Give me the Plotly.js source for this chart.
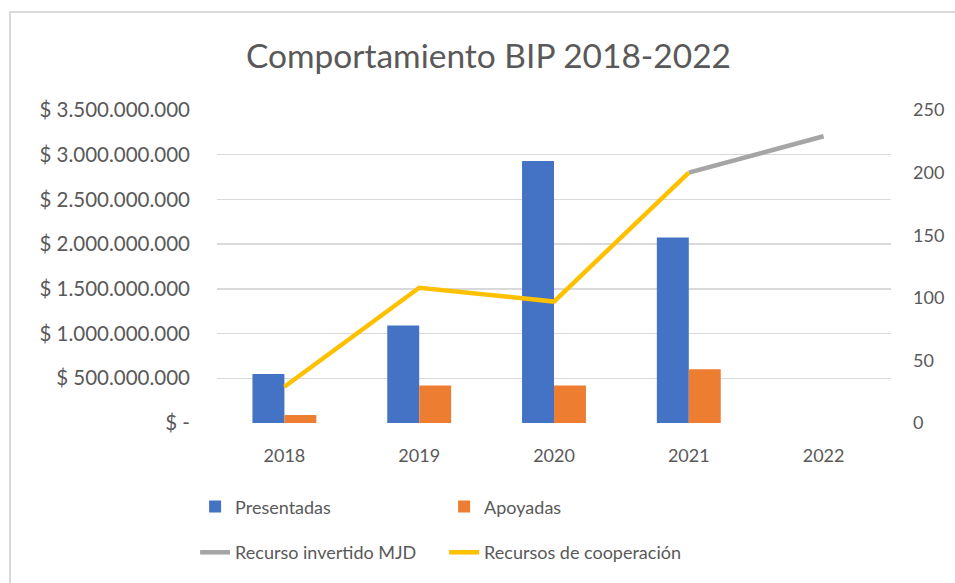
<!DOCTYPE html>
<html>
<head>
<meta charset="utf-8">
<script src="https://cdn.plot.ly/plotly-3.0.1.min.js"></script>
<style>html,body{margin:0;padding:0;background:#fff;}#chart{width:955px;height:583px;}</style>
</head>
<body>
<div id="chart"></div>
<script>
const years = ['2018', '2019', '2020', '2021', '2022'];
const presentadas = [548000000, 1090000000, 2930000000, 2075000000, null];
const apoyadas = [90000000, 420000000, 420000000, 600000000, null];
const recursoMJD = [null, null, null, 200, 229];
const recursosCooperacion = [29, 108, 97, 200, null];
const leftTickVals = [0, 500000000, 1000000000, 1500000000, 2000000000, 2500000000, 3000000000, 3500000000];
const leftTickText = ['$ -', '$ 500.000.000', '$ 1.000.000.000', '$ 1.500.000.000', '$ 2.000.000.000', '$ 2.500.000.000', '$ 3.000.000.000', '$ 3.500.000.000'];
const rightTickVals = [0, 50, 100, 150, 200, 250];

const FONT = 'Lato, "Open Sans", sans-serif';
const TXT = '#595959';

const traces = [
  {type: 'bar', name: 'Presentadas', x: years, y: presentadas, marker: {color: '#4472C4'}, legend: 'legend'},
  {type: 'bar', name: 'Apoyadas', x: years, y: apoyadas, marker: {color: '#ED7D31'}, legend: 'legend'},
  {type: 'scatter', mode: 'lines', name: 'Recurso invertido MJD', x: years, y: recursoMJD, yaxis: 'y2',
   line: {color: '#A5A5A5', width: 4.5}, connectgaps: false, legend: 'legend2'},
  {type: 'scatter', mode: 'lines', name: 'Recursos de cooperación', x: years, y: recursosCooperacion, yaxis: 'y2',
   line: {color: '#FFC000', width: 4.5}, connectgaps: false, legend: 'legend2'}
];

const layout = {
  width: 955, height: 583,
  margin: {l: 217, r: 64, t: 110, b: 160},
  paper_bgcolor: '#ffffff', plot_bgcolor: '#ffffff',
  font: {family: FONT, color: TXT, size: 18},
  title: {text: 'Comportamiento BIP 2018-2022', font: {family: FONT, size: 33.5, color: TXT},
          x: 0.5115, xanchor: 'center', y: 1 - 56/583, yanchor: 'middle'},
  barmode: 'group', bargap: 0.526, bargroupgap: 0,
  xaxis: {type: 'category', showgrid: false, zeroline: false, showline: false, ticks: '',
          tickfont: {size: 18, color: TXT}, ticklabelstandoff: 20},
  yaxis: {range: [0, 3500000000], tickvals: leftTickVals, ticktext: leftTickText,
          showgrid: true, gridcolor: '#D9D9D9', gridwidth: 1.5, zeroline: false, showline: false, ticks: '',
          tickfont: {size: 20.5, color: TXT}, ticklabelstandoff: 26},
  yaxis2: {range: [0, 250], tickvals: rightTickVals, overlaying: 'y', side: 'right',
           showgrid: false, zeroline: false, showline: false, ticks: '',
           tickfont: {size: 18, color: TXT}, ticklabelstandoff: 21},
  legend: {orientation: 'h', x: -0.0325, xanchor: 'left', y: -0.268, yanchor: 'middle',
           entrywidth: 204, entrywidthmode: 'pixels', font: {size: 18, color: TXT}, bgcolor: 'rgba(0,0,0,0)'},
  legend2: {orientation: 'h', x: -0.0325, xanchor: 'left', y: -0.414, yanchor: 'middle',
           entrywidth: 204, entrywidthmode: 'pixels', font: {size: 18, color: TXT}, bgcolor: 'rgba(0,0,0,0)'},
  shapes: [
    {type: 'rect', xref: 'paper', yref: 'paper',
     x0: (10 - 217) / 674, x1: (965 - 217) / 674, y0: (423 - 600) / 313, y1: (423 - 12) / 313,
     line: {color: '#D9D9D9', width: 2}, fillcolor: 'rgba(0,0,0,0)', layer: 'below'}
  ],
  showlegend: true,
  hovermode: false
};

Plotly.newPlot('chart', traces, layout, {staticPlot: true, displayModeBar: false});
</script>
</body>
</html>
